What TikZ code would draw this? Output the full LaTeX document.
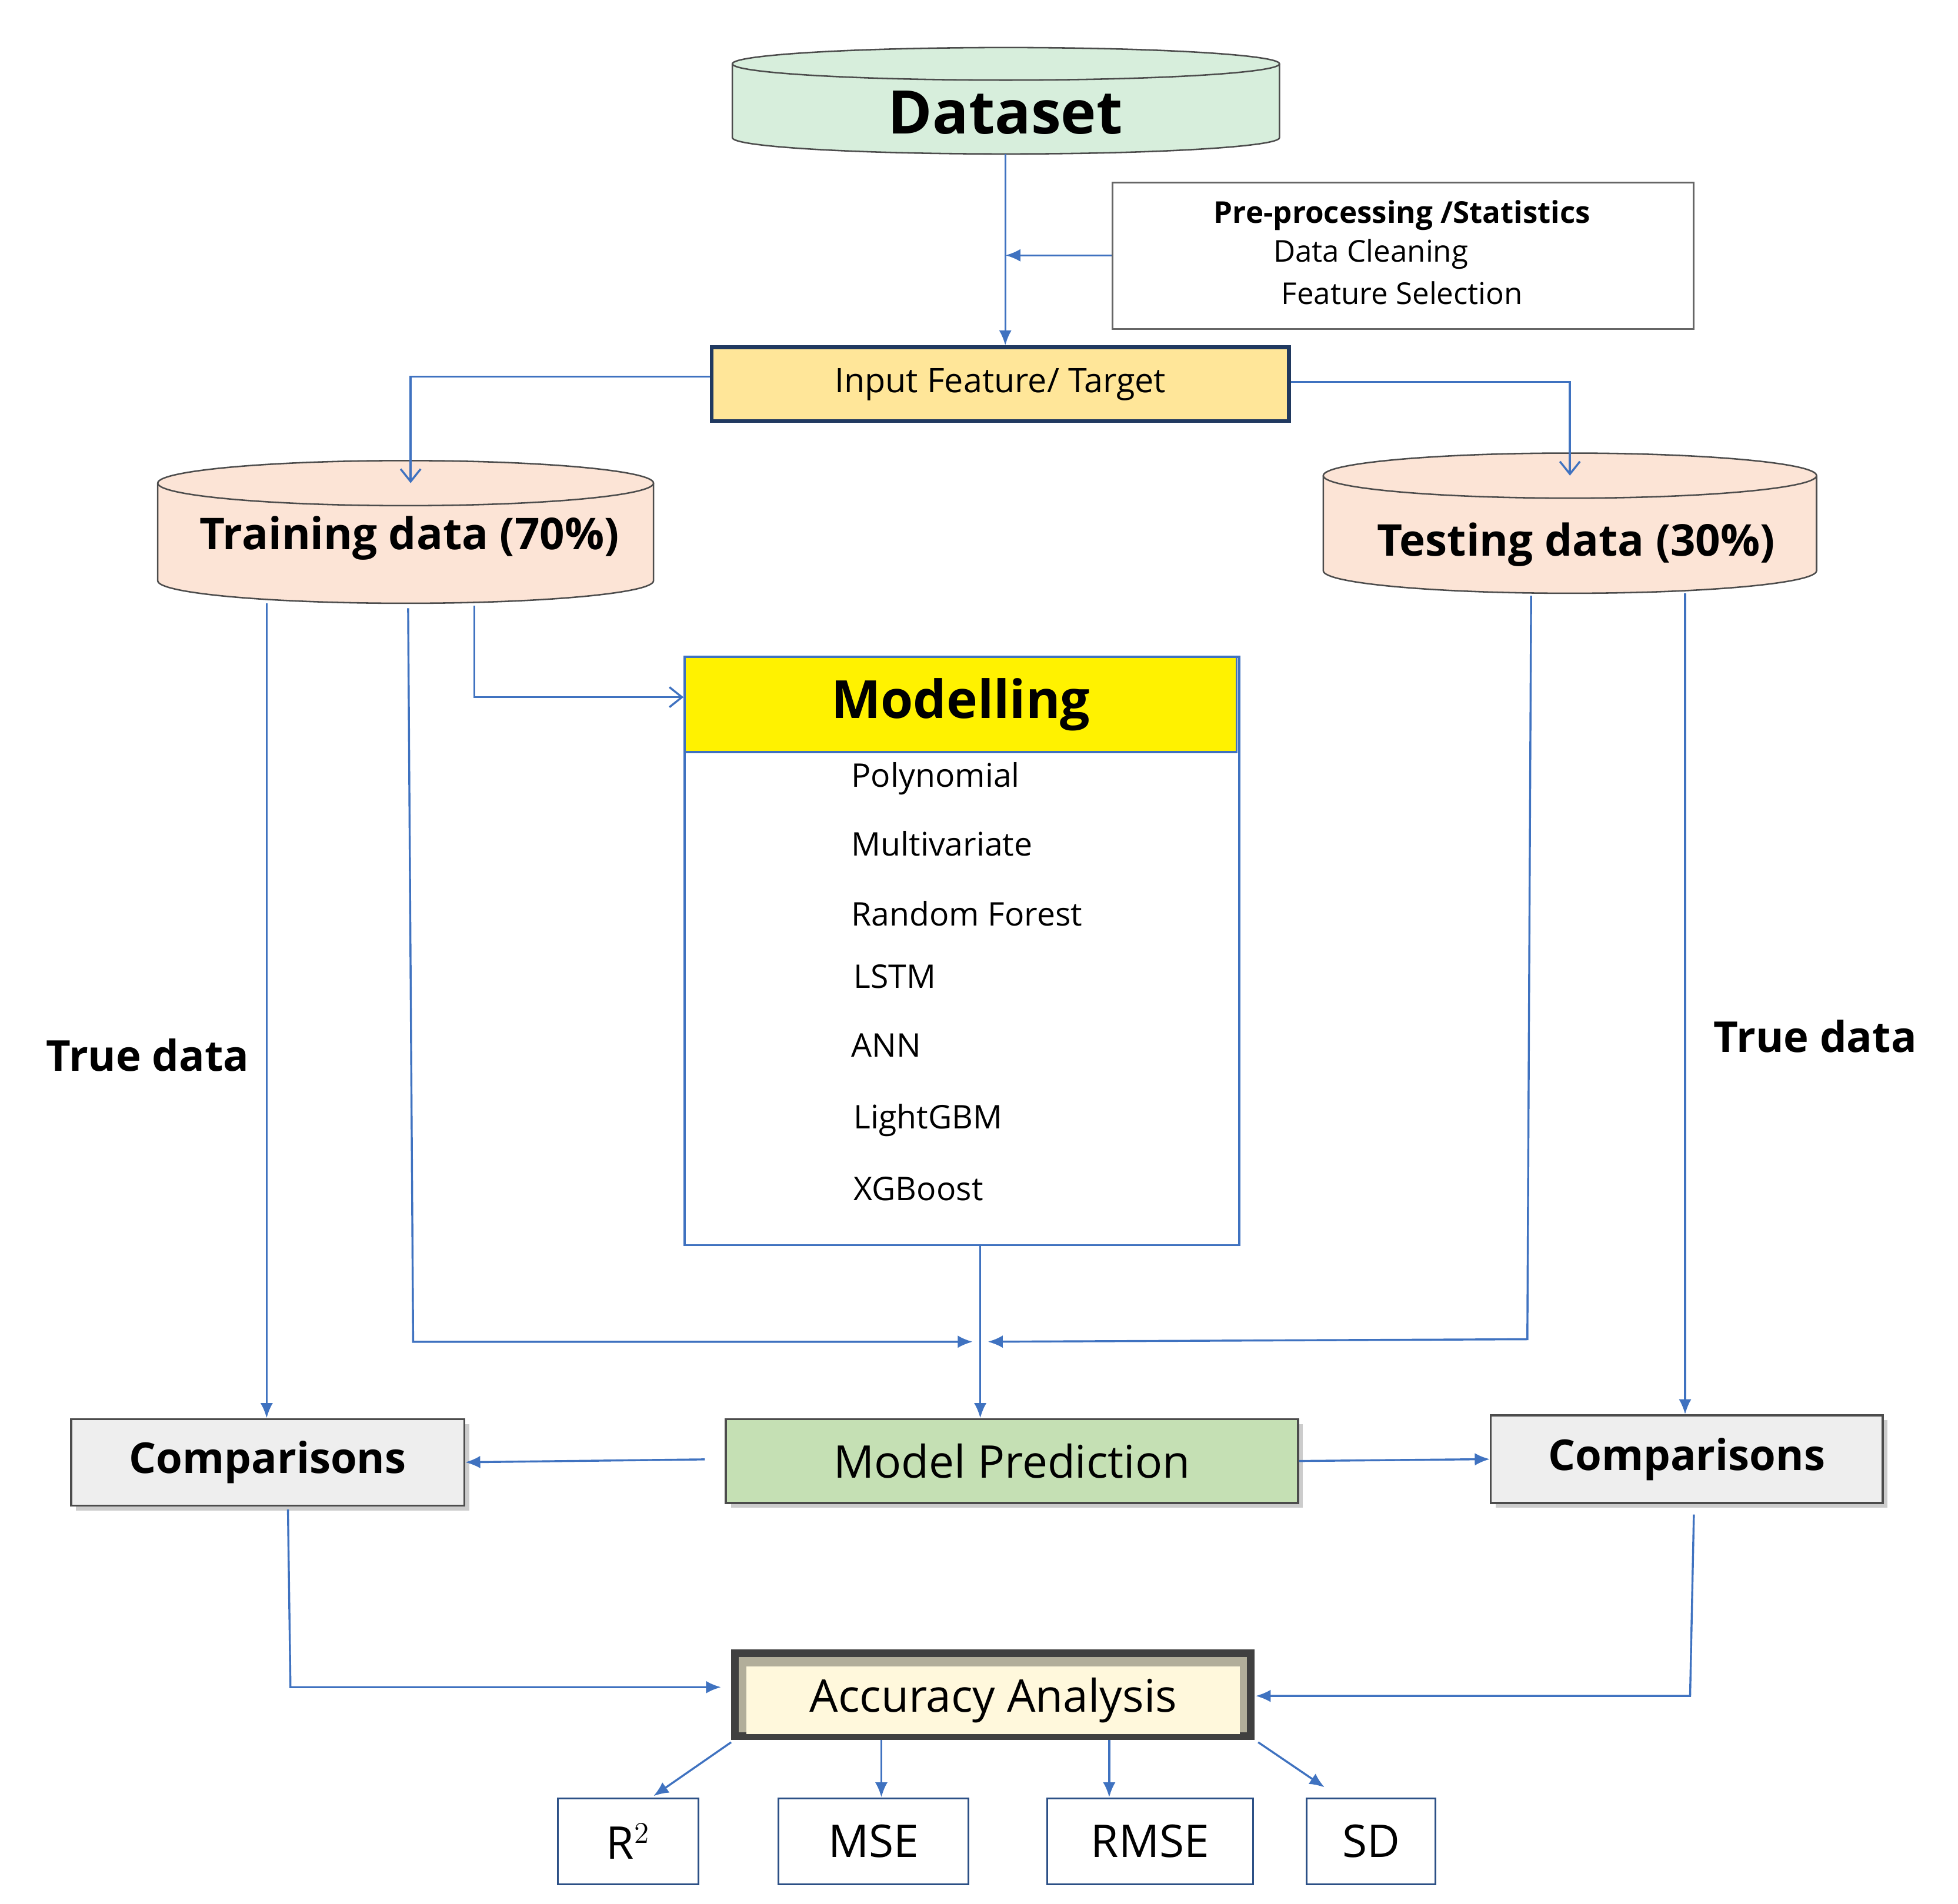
\documentclass[tikz,border=0pt]{standalone}
\usepackage{fontspec}
\setmainfont{Open Sans}
\usetikzlibrary{arrows.meta,shadows}
\definecolor{ln}{HTML}{3F72C0}
\definecolor{dsg}{HTML}{D7EEDC}
\definecolor{peach}{HTML}{FCE4D6}
\definecolor{inp}{HTML}{FFE699}
\definecolor{mp}{HTML}{C5E0B4}
\definecolor{cmp}{HTML}{EEEEEE}
\definecolor{acc}{HTML}{FFF8DC}
\newcommand{\fs}[1]{\fontsize{#1}{#1}\selectfont}
\newcommand{\mycyl}[6]{% x1 x2 ytop ybot ry(px full height) fill
 \pgfmathsetmacro{\rx}{(#2-#1)/4}\pgfmathsetmacro{\ryy}{#5/4}
 \pgfmathsetmacro{\cx}{(#1+#2)/2}
 \fill[#6] (#1,#3) rectangle (#2,#4);
 \fill[#6] (\cx,#4) ellipse[x radius=\rx pt,y radius=\ryy pt];
 \draw[draw=black!70,line width=0.6pt] (#1,#3) -- (#1,#4) arc[start angle=180,end angle=360,x radius=\rx pt,y radius=\ryy pt] -- (#2,#3);
 \draw[draw=black!70,line width=0.6pt,fill=#6] (\cx,#3) ellipse[x radius=\rx pt,y radius=\ryy pt];}
\tikzset{x=0.5pt,y=-0.5pt,
 conn/.style={draw=ln,line width=0.8pt},
 arr/.style={conn,-{Latex[length=6pt,width=5pt]}},
 oarr/.style={conn,-{Straight Barb[length=5pt,width=8pt]}},
 box/.style={draw=black!60,line width=0.7pt,anchor=north west,inner sep=0pt},
 met/.style={draw=ln!70!black,line width=0.7pt,anchor=north west,inner sep=0pt,font=\fs{18}},
 item/.style={anchor=west,font=\fs{13}}}
\begin{document}
\begin{tikzpicture}
\useasboundingbox (0,0) rectangle (1564,1521);
% Dataset
\mycyl{585}{1022}{51}{110}{26}{dsg}
\node[font=\bfseries\fs{24}] (ds) at (803,90) {Dataset};
\coordinate (dsb) at (803,123);
% preprocessing
\node[box,minimum width=232pt,minimum height=58.5pt] (pp) at (888,145) {};
\node[font=\bfseries\fs{12}] (pp1) at (1120,172) {Pre-processing /Statistics};
\node[font=\fs{12}] (pp2) at (1095,203) {Data Cleaning};
\node[font=\fs{12}] (pp3) at (1120,234) {Feature Selection};
% input
\node[anchor=north west,draw=ln!50!black,line width=1.5pt,fill=inp,minimum width=230.5pt,minimum height=29.5pt,font=\fs{13.5}] (in) at (567,276) {Input Feature/ Target};
\coordinate (mid) at (803,204);
\draw[arr] (dsb) -- (in.north -| dsb);
\draw[arr] (pp.west |- mid) -- (mid);
% cylinders
\mycyl{126}{522}{386}{464}{36}{peach}
\node[font=\bfseries\fs{17.5}] (tr) at (327,430) {Training data (70\%)};
\mycyl{1057}{1451}{380}{456}{36}{peach}
\node[font=\bfseries\fs{17.5}] (te) at (1259,435) {Testing data (30\%)};
\coordinate (trtop) at (328,386);
\coordinate (tetop) at (1254,380);
\draw[oarr] (in.west |- 0,301) -- (328,301) -- (trtop);
\draw[oarr] (in.east |- 0,305) -- (1254,305) -- (tetop);
% modelling
\node[anchor=north west,draw=ln,line width=0.8pt,minimum width=221.5pt,minimum height=235pt] (mb) at (546,524) {};
\node[anchor=north west,draw=ln,line width=0.8pt,fill=yellow,minimum width=220.5pt,minimum height=38pt,font=\bfseries\fs{21}] (mh) at (546,524) {Modelling};
\node[item] (m1) at (673,622) {Polynomial};
\node[item] (m2) at (673,674) {Multivariate};
\node[item] (m3) at (673,730) {Random Forest};
\node[item] (m4) at (675,780) {LSTM};
\node[item] (m5) at (673,835) {ANN};
\node[item] (m6) at (675,895) {LightGBM};
\node[item] (m7) at (675,950) {XGBoost};
\draw[oarr] (379,484) -- (379,557) -- (mh.west |- 0,557);
% bottom row
\node[anchor=north west,draw=black!70,line width=0.8pt,fill=cmp,drop shadow={shadow xshift=2pt,shadow yshift=-2pt,opacity=0.4},minimum width=157pt,minimum height=34.5pt,font=\bfseries\fs{17}] (c1) at (56,1133) {Comparisons};
\node[anchor=north west,draw=black!70,line width=0.8pt,fill=mp,drop shadow={shadow xshift=2pt,shadow yshift=-2pt,opacity=0.4},minimum width=228.5pt,minimum height=33.5pt,font=\fs{18}] (mpn) at (579,1133) {Model Prediction};
\node[anchor=north west,draw=black!70,line width=0.8pt,fill=cmp,drop shadow={shadow xshift=2pt,shadow yshift=-2pt,opacity=0.4},minimum width=156.5pt,minimum height=35pt,font=\bfseries\fs{17}] (c2) at (1190,1130) {Comparisons};
% true data lines
\draw[arr] (213,482) -- (c1.north -| 213,0);
\node[font=\bfseries\fs{17}] (td1) at (118,843) {True data};
\draw[arr] (1346,474) -- (c2.north -| 1346,0);
\node[font=\bfseries\fs{17}] (td2) at (1450,828) {True data};
\coordinate (jl) at (777,1072);
\coordinate (jr) at (789,1072);
\draw[arr] (326,486) -- (330,1072) -- (jl);
\draw[arr] (1223,476) -- (1220,1070) -- (jr);
\draw[arr] (mb.south -| 783,0) -- (mpn.north -| 783,0);
\draw[arr] (563,1166) -- (c1.east);
\draw[arr] (mpn.east) -- (c2.west);
% accuracy
\fill[black!75] (584,1318) rectangle (1002,1390);
\fill[acc!70!black] (590,1324) rectangle (996,1384);
\node[anchor=north west,fill=acc,minimum width=197pt,minimum height=27pt,inner sep=0pt,font=\fs{18}] (acc) at (596,1331) {Accuracy Analysis};
\coordinate (accw) at (576,1348);
\coordinate (acce) at (1003,1355);
\draw[arr] (230,1206) -- (232,1348) -- (accw);
\draw[arr] (1353,1210) -- (1350,1355) -- (acce);
% metrics
\node[met,minimum width=56pt,minimum height=34.5pt] (r2) at (445,1436) {R$^2$};
\node[met,minimum width=76pt,minimum height=34.5pt] (mse) at (621,1436) {MSE};
\node[met,minimum width=82pt,minimum height=34.5pt] (rmse) at (836,1436) {RMSE};
\node[met,minimum width=51.5pt,minimum height=34.5pt] (sd) at (1043,1436) {SD};
\draw[arr] (584,1392) -- (522,1435);
\draw[arr] (704,1390) -- (mse.north -| 704,0);
\draw[arr] (886,1390) -- (rmse.north -| 886,0);
\draw[arr] (1005,1392) -- (1058,1428);
\end{tikzpicture}
\end{document}
